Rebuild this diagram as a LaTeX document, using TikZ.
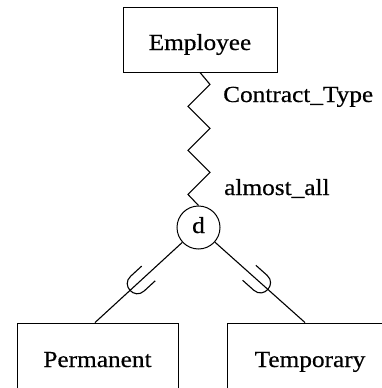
\documentclass[tikz,border=0pt]{standalone}
\usepackage{fontspec}
\setmainfont[FakeStretch=1.1, FakeBold=0.5]{Liberation Serif}
\usetikzlibrary{calc}
\tikzset{
  entity/.style={draw, line width=0.9pt, rectangle, inner sep=0pt, text depth=0pt},
  disj/.style={draw, line width=1pt, circle, inner sep=0pt, minimum size=43pt, text height=11pt, text depth=0pt},
  conn/.style={line width=1.1pt},
  lbl/.style={inner sep=0pt, anchor=base west},
}
\newcommand{\subsetSym}[2]{%
  \draw[conn, line width=1.1pt]
    ($($(#1)!68pt!(#2)$)!10pt!90:(#2)$) --
    ($($(#1)!83pt!(#2)$)!10pt!90:(#2)$) .. controls
    ($($(#1)!96.3pt!(#2)$)!10pt!90:(#2)$) and
    ($($(#1)!96.3pt!(#2)$)!10pt!-90:(#2)$) ..
    ($($(#1)!83pt!(#2)$)!10pt!-90:(#2)$) --
    ($($(#1)!68pt!(#2)$)!10pt!-90:(#2)$);}
\begin{document}
\begin{tikzpicture}[x=1pt,y=-1pt, font=\fontsize{23}{26}\selectfont]
\useasboundingbox (0,0) rectangle (381,388);
\node[entity, minimum width=154pt, minimum height=65pt, text height=21pt] (emp) at (200,39.5) {Employee};
\node[disj] (d) at (198.5,227.5) {d};
\node[entity, minimum width=161pt, minimum height=88pt, text height=0pt] (perm) at (97.5,367) {Permanent};
\node[entity, minimum width=166pt, minimum height=88pt, text height=0pt] (temp) at (310,367) {Temporary};
\coordinate (pend) at ($(perm.north)+(-2.5,0)$);
\coordinate (tend) at ($(temp.north)+(-5,0)$);
\draw[conn] (emp.south) -- ++(10,12) -- ++(-22,22) -- ++(22,22) -- ++(-22,22)
  -- ++(22,22) -- ++(-22,22) -- (d.north);
\node[lbl] (ct) at (223,102) {Contract\_Type};
\node[lbl] (aa) at (224,195) {almost\_all};
\draw[conn] (d) -- (pend);
\draw[conn] (d) -- (tend);
\subsetSym{d.center}{pend}
\subsetSym{d.center}{tend}
\end{tikzpicture}
\end{document}
